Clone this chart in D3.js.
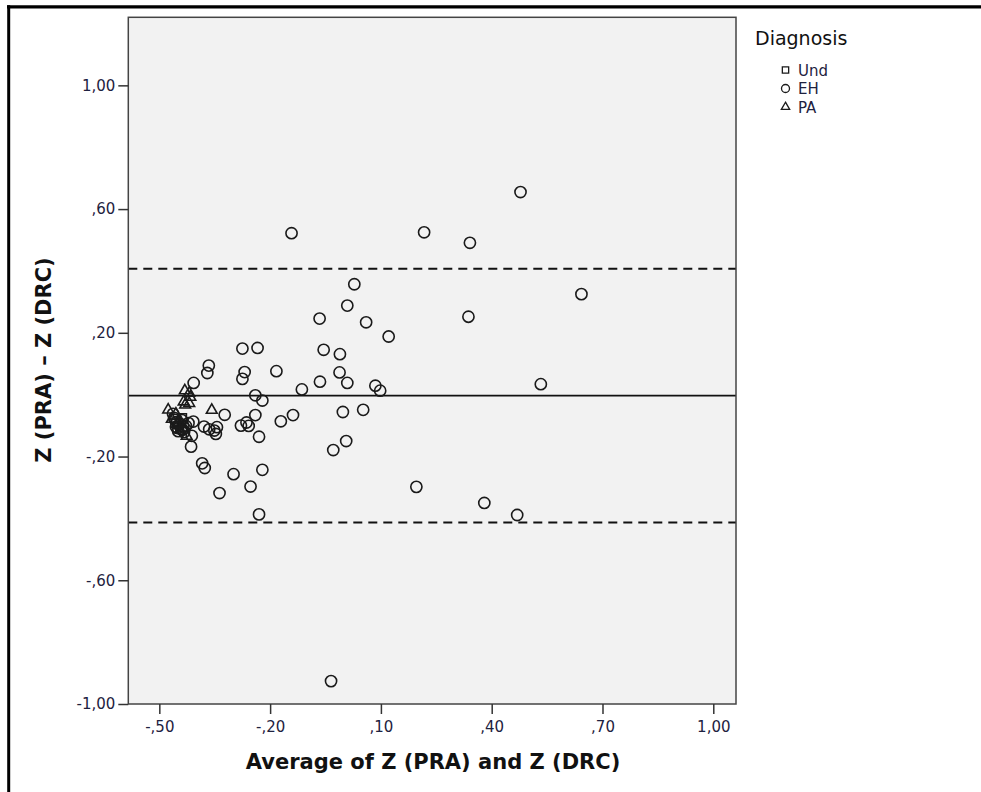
<!DOCTYPE html>
<html>
<head>
<meta charset="utf-8">
<script src="https://cdn.jsdelivr.net/npm/d3@7"></script>
<style>
  html, body { margin: 0; padding: 0; background: #ffffff; }
  svg { display: block; }
  text { font-family: "DejaVu Sans", Verdana, sans-serif; }
</style>
</head>
<body>
<svg id="chart" width="981" height="792"></svg>
<script>
// ---- data ----
const groups = ["Und", "EH", "PA"];
const xTicks = [-0.5, -0.2, 0.1, 0.4, 0.7, 1.0];
const yTicks = [-1.0, -0.6, -0.2, 0.2, 0.6, 1.0];
const meanDiff = -0.003;
const upperLoA = 0.407;
const lowerLoA = -0.413;

const ehAvg = [-0.142, 0.217, 0.341, 0.478, 0.028, 0.009, -0.066, 0.060, 0.337, 0.643,
  0.121, -0.234, -0.275, -0.055, -0.011, -0.183, -0.012, -0.065, 0.009, -0.114,
  0.085, 0.098, 0.533, -0.240, -0.221, -0.366, -0.370, -0.269, -0.275, -0.407,
  -0.323, -0.240, -0.279, -0.264, -0.258, -0.230, -0.171, -0.138, -0.003, 0.052,
  0.006, -0.029, -0.384, -0.377, -0.299, -0.221, -0.253, -0.337, -0.230, 0.196,
  0.380, 0.469, -0.035, -0.379, -0.365, -0.351, -0.344, -0.347, -0.408, -0.421,
  -0.412, -0.414, -0.439, -0.435, -0.460, -0.452, -0.447, -0.455, -0.441, -0.463,
  -0.449, -0.433, -0.428, -0.450, -0.444, -0.458, -0.437];
const ehDiff = [0.522, 0.525, 0.491, 0.655, 0.357, 0.288, 0.246, 0.234, 0.252, 0.325,
  0.188, 0.151, 0.149, 0.145, 0.131, 0.076, 0.072, 0.042, 0.038, 0.017,
  0.029, 0.013, 0.034, -0.002, -0.019, 0.094, 0.070, 0.073, 0.051, 0.038,
  -0.065, -0.066, -0.100, -0.090, -0.101, -0.136, -0.086, -0.066, -0.056, -0.049,
  -0.150, -0.179, -0.222, -0.237, -0.257, -0.243, -0.297, -0.318, -0.387, -0.298,
  -0.350, -0.389, -0.926, -0.103, -0.112, -0.116, -0.105, -0.127, -0.087, -0.092,
  -0.133, -0.168, -0.082, -0.103, -0.075, -0.088, -0.098, -0.104, -0.111, -0.062,
  -0.118, -0.121, -0.101, -0.108, -0.094, -0.081, -0.113];
const paAvg = [-0.476, -0.431, -0.419, -0.416, -0.434, -0.419, -0.358, -0.455, -0.466, -0.426, -0.444, -0.430];
const paDiff = [-0.049, 0.013, 0.005, -0.008, -0.023, -0.028, -0.050, -0.062, -0.079, -0.134, -0.114, -0.033];
const undAvg = [-0.457, -0.438];
const undDiff = [-0.092, -0.075];

// ---- layout ----
const svg = d3.select("#chart");
const pLeft = 128.3, pRight = 736, pTop = 17.3, pBottom = 704;
const x = d3.scaleLinear().domain([-0.584, 1.0615]).range([pLeft, pRight]);
const y = d3.scaleLinear().domain([-1.0, 1.22]).range([pBottom, pTop]);
const fmt = v => v.toFixed(2).replace(".", ",").replace(/^(-?)0,/, "$1,");
const ink = "#1a1a1a";

// outer frame (top and left thick black lines)
svg.append("line").attr("x1", 7).attr("x2", 981).attr("y1", 6.8).attr("y2", 6.8)
  .attr("stroke", "#000").attr("stroke-width", 3.2);
svg.append("line").attr("x1", 8.7).attr("x2", 8.7).attr("y1", 5.2).attr("y2", 792)
  .attr("stroke", "#000").attr("stroke-width", 3);

// plot background
svg.append("rect").attr("x", pLeft).attr("y", pTop)
  .attr("width", pRight - pLeft).attr("height", pBottom - pTop)
  .attr("fill", "#f2f2f2");

// reference lines
const gLines = svg.append("g");
gLines.append("line").attr("x1", pLeft).attr("x2", pRight)
  .attr("y1", y(meanDiff)).attr("y2", y(meanDiff))
  .attr("stroke", "#111").attr("stroke-width", 1.6);
[upperLoA, lowerLoA].forEach(v => {
  gLines.append("line").attr("x1", pLeft).attr("x2", pRight)
    .attr("y1", y(v)).attr("y2", y(v))
    .attr("stroke", "#111").attr("stroke-width", 2)
    .attr("stroke-dasharray", "9,6");
});

// points
const gPts = svg.append("g").attr("fill", "none").attr("stroke", ink).attr("stroke-width", 1.6);
gPts.selectAll("circle.eh").data(d3.range(ehAvg.length)).join("circle")
  .attr("class", "eh")
  .attr("cx", i => x(ehAvg[i])).attr("cy", i => y(ehDiff[i])).attr("r", 5.6);
const tri = d3.symbol().type(d3.symbolTriangle).size(50);
gPts.selectAll("path.pa").data(d3.range(paAvg.length)).join("path")
  .attr("class", "pa").attr("d", tri)
  .attr("transform", i => `translate(${x(paAvg[i])},${y(paDiff[i])})`);
const sq = d3.symbol().type(d3.symbolSquare).size(70);
gPts.selectAll("path.und").data(d3.range(undAvg.length)).join("path")
  .attr("class", "und").attr("d", sq)
  .attr("transform", i => `translate(${x(undAvg[i])},${y(undDiff[i])})`);

// plot frame
svg.append("rect").attr("x", pLeft).attr("y", pTop)
  .attr("width", pRight - pLeft).attr("height", pBottom - pTop)
  .attr("fill", "none").attr("stroke", "#444").attr("stroke-width", 1.5);

// axes
const xAxis = svg.append("g").attr("transform", `translate(0,${pBottom})`)
  .call(d3.axisBottom(x).tickValues(xTicks).tickFormat(fmt).tickSize(10).tickSizeOuter(0).tickPadding(7));
const yAxis = svg.append("g").attr("transform", `translate(${pLeft},0)`)
  .call(d3.axisLeft(y).tickValues(yTicks).tickFormat(fmt).tickSize(10).tickSizeOuter(0).tickPadding(3));
[xAxis, yAxis].forEach(a => {
  a.select(".domain").remove();
  a.selectAll(".tick line").attr("stroke", "#333").attr("stroke-width", 1.5);
  a.selectAll(".tick text").attr("fill", "#1e2240")
    .style("font-family", "'DejaVu Sans', Verdana, sans-serif").style("font-size", "15px");
});

// axis titles
svg.append("text").attr("x", 433).attr("y", 769).attr("text-anchor", "middle")
  .style("font-size", "21px").style("font-weight", "bold").attr("fill", "#111")
  .text("Average of Z (PRA) and Z (DRC)");
svg.append("text").attr("transform", "translate(51,360) rotate(-90)").attr("text-anchor", "middle")
  .style("font-size", "21px").style("font-weight", "bold").attr("fill", "#111")
  .text("Z (PRA) \u2013 Z (DRC)");

// legend
const lg = svg.append("g");
lg.append("text").attr("x", 755).attr("y", 45).style("font-size", "19px").attr("fill", "#111")
  .text("Diagnosis");
const legY = [70, 88.5, 107];
const legSyms = [d3.symbol().type(d3.symbolSquare).size(40), null, d3.symbol().type(d3.symbolTriangle).size(30)];
groups.forEach((g, i) => {
  if (i === 1) {
    lg.append("circle").attr("cx", 785.5).attr("cy", legY[i]).attr("r", 4)
      .attr("fill", "none").attr("stroke", ink).attr("stroke-width", 1.3);
  } else {
    lg.append("path").attr("d", legSyms[i]).attr("transform", `translate(785.5,${legY[i]})`)
      .attr("fill", "none").attr("stroke", ink).attr("stroke-width", 1.3);
  }
  lg.append("text").attr("x", 798).attr("y", legY[i] + 5.5).style("font-size", "15px")
    .attr("fill", "#1e2240").text(g);
});
</script>
</body>
</html>
